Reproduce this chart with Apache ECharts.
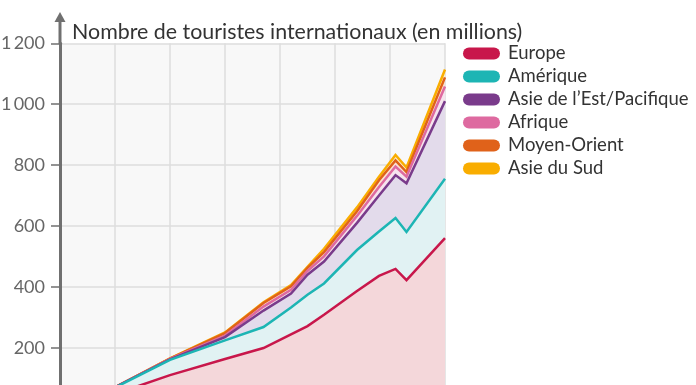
<!DOCTYPE html>
<html><head><meta charset="utf-8">
<script src="https://cdn.jsdelivr.net/npm/echarts@6/dist/echarts.min.js"></script>
<style>html,body{margin:0;padding:0;background:#fff}#c{width:696px;height:385px}</style>
</head><body><div id="c"></div>
<script>
const years = [1950,1960,1970,1980,1987,1992,1995,1998,2004,2008,2011,2013,2020];
const europe      = [17,48,110,163,199,244,271,308,386,436,459,422,560];
const amerique    = [7,21,50,61,69,88,103,103,135,146,167,158,195];
const asieEst     = [1,1,2,11,54,46,66,72,89,118,141,160,255];
const afrique     = [0,0,1,5,13,12,12,17,23,28,28,22,48];
const moyenOrient = [0,0,1,8,12,12,10,14,15,22,20,15,30];
const asieSud     = [0,0,1,2,2,4,4,11,13,12,18,15,26];
const yTicks = [0,200,400,600,800,1000,1200];
const titleText = 'Nombre de touristes internationaux (en millions)';

const FONT = 'Lato';
const defs = [
  {name:'Europe', data:europe, color:'#c8174b', fill:'#f4d7da'},
  {name:'Amérique', data:amerique, color:'#1db5b4', fill:'#e1f2f3'},
  {name:'Asie de l’Est/Pacifique', data:asieEst, color:'#7a3b8b', fill:'#e3dbeb'},
  {name:'Afrique', data:afrique, color:'#de6aa0', fill:'#f6e4ee'},
  {name:'Moyen-Orient', data:moyenOrient, color:'#e0621a', fill:'#fbe2d2'},
  {name:'Asie du Sud', data:asieSud, color:'#f9ad00', fill:'#fdf0c8'}
];
// cumulative stack computed from the per-region arrays
const run = years.map(()=>0);
defs.forEach(d=>{ d.cum = d.data.map((v,k)=> (run[k] += v)); });

const pill = 'path://M6,0 L31,0 A6,6 0 0 1 31,12 L6,12 A6,6 0 0 1 6,0 Z';

const chart = echarts.init(document.getElementById('c'), null, {renderer:'canvas'});
chart.setOption({
  animation:false,
  backgroundColor:'#ffffff',
  title:{text:titleText, left:67, top:17,
    textStyle:{fontFamily:FONT, fontSize:21.4, fontWeight:'normal', color:'#333'}},
  legend:{orient:'vertical', left:458, top:38.5, itemWidth:37, itemHeight:12, itemGap:3,
    icon:pill, data:defs.map(d=>({name:d.name, icon:pill})),
    textStyle:{fontFamily:FONT, fontSize:18.5, color:'#333', lineHeight:20, padding:[0,0,0,3]}},
  grid:{left:60, width:385, top:43.3, height:365.3, outerBoundsMode:'none', containLabel:false,
    show:true, backgroundColor:'#f8f8f8', borderWidth:0},
  xAxis:{type:'value', min:1950, max:2020, interval:10,
    axisLine:{show:false}, axisTick:{show:false}, axisLabel:{show:false},
    splitLine:{show:true, lineStyle:{color:'#dedede', width:1.5}}},
  yAxis:{type:'value', min:yTicks[0], max:yTicks[yTicks.length-1], interval:200,
    axisLine:{show:true, lineStyle:{color:'#707070', width:3}},
    axisTick:{show:true, length:9, lineStyle:{color:'#707070', width:1.5}},
    axisLabel:{margin:15, fontFamily:FONT, fontSize:18, color:'#666',
      formatter:v=> v>=1000 ? String(v).replace(/^(\d)(\d{3})$/,'$1\u2009$2') : String(v)},
    splitLine:{show:true, lineStyle:{color:'#dedede', width:1.5}}},
  graphic:[
    {type:'line', shape:{x1:60, y1:44, x2:60, y2:20}, style:{stroke:'#707070', lineWidth:3}, z:100},
    {type:'polygon', shape:{points:[[60,12],[54.5,22],[65.5,22]]}, style:{fill:'#707070'}, z:100}
  ],
  series: defs.map((d,i)=>({
    name:d.name, type:'line', showSymbol:false, symbol:'none',
    z: 10 - i,
    data: years.map((y,k)=>[y, d.cum[k]]),
    lineStyle:{color:d.color, width:2.5, join:'miter'},
    itemStyle:{color:d.color},
    areaStyle:{color:d.fill, opacity:1, origin:'start'}
  }))
});
</script></body></html>
